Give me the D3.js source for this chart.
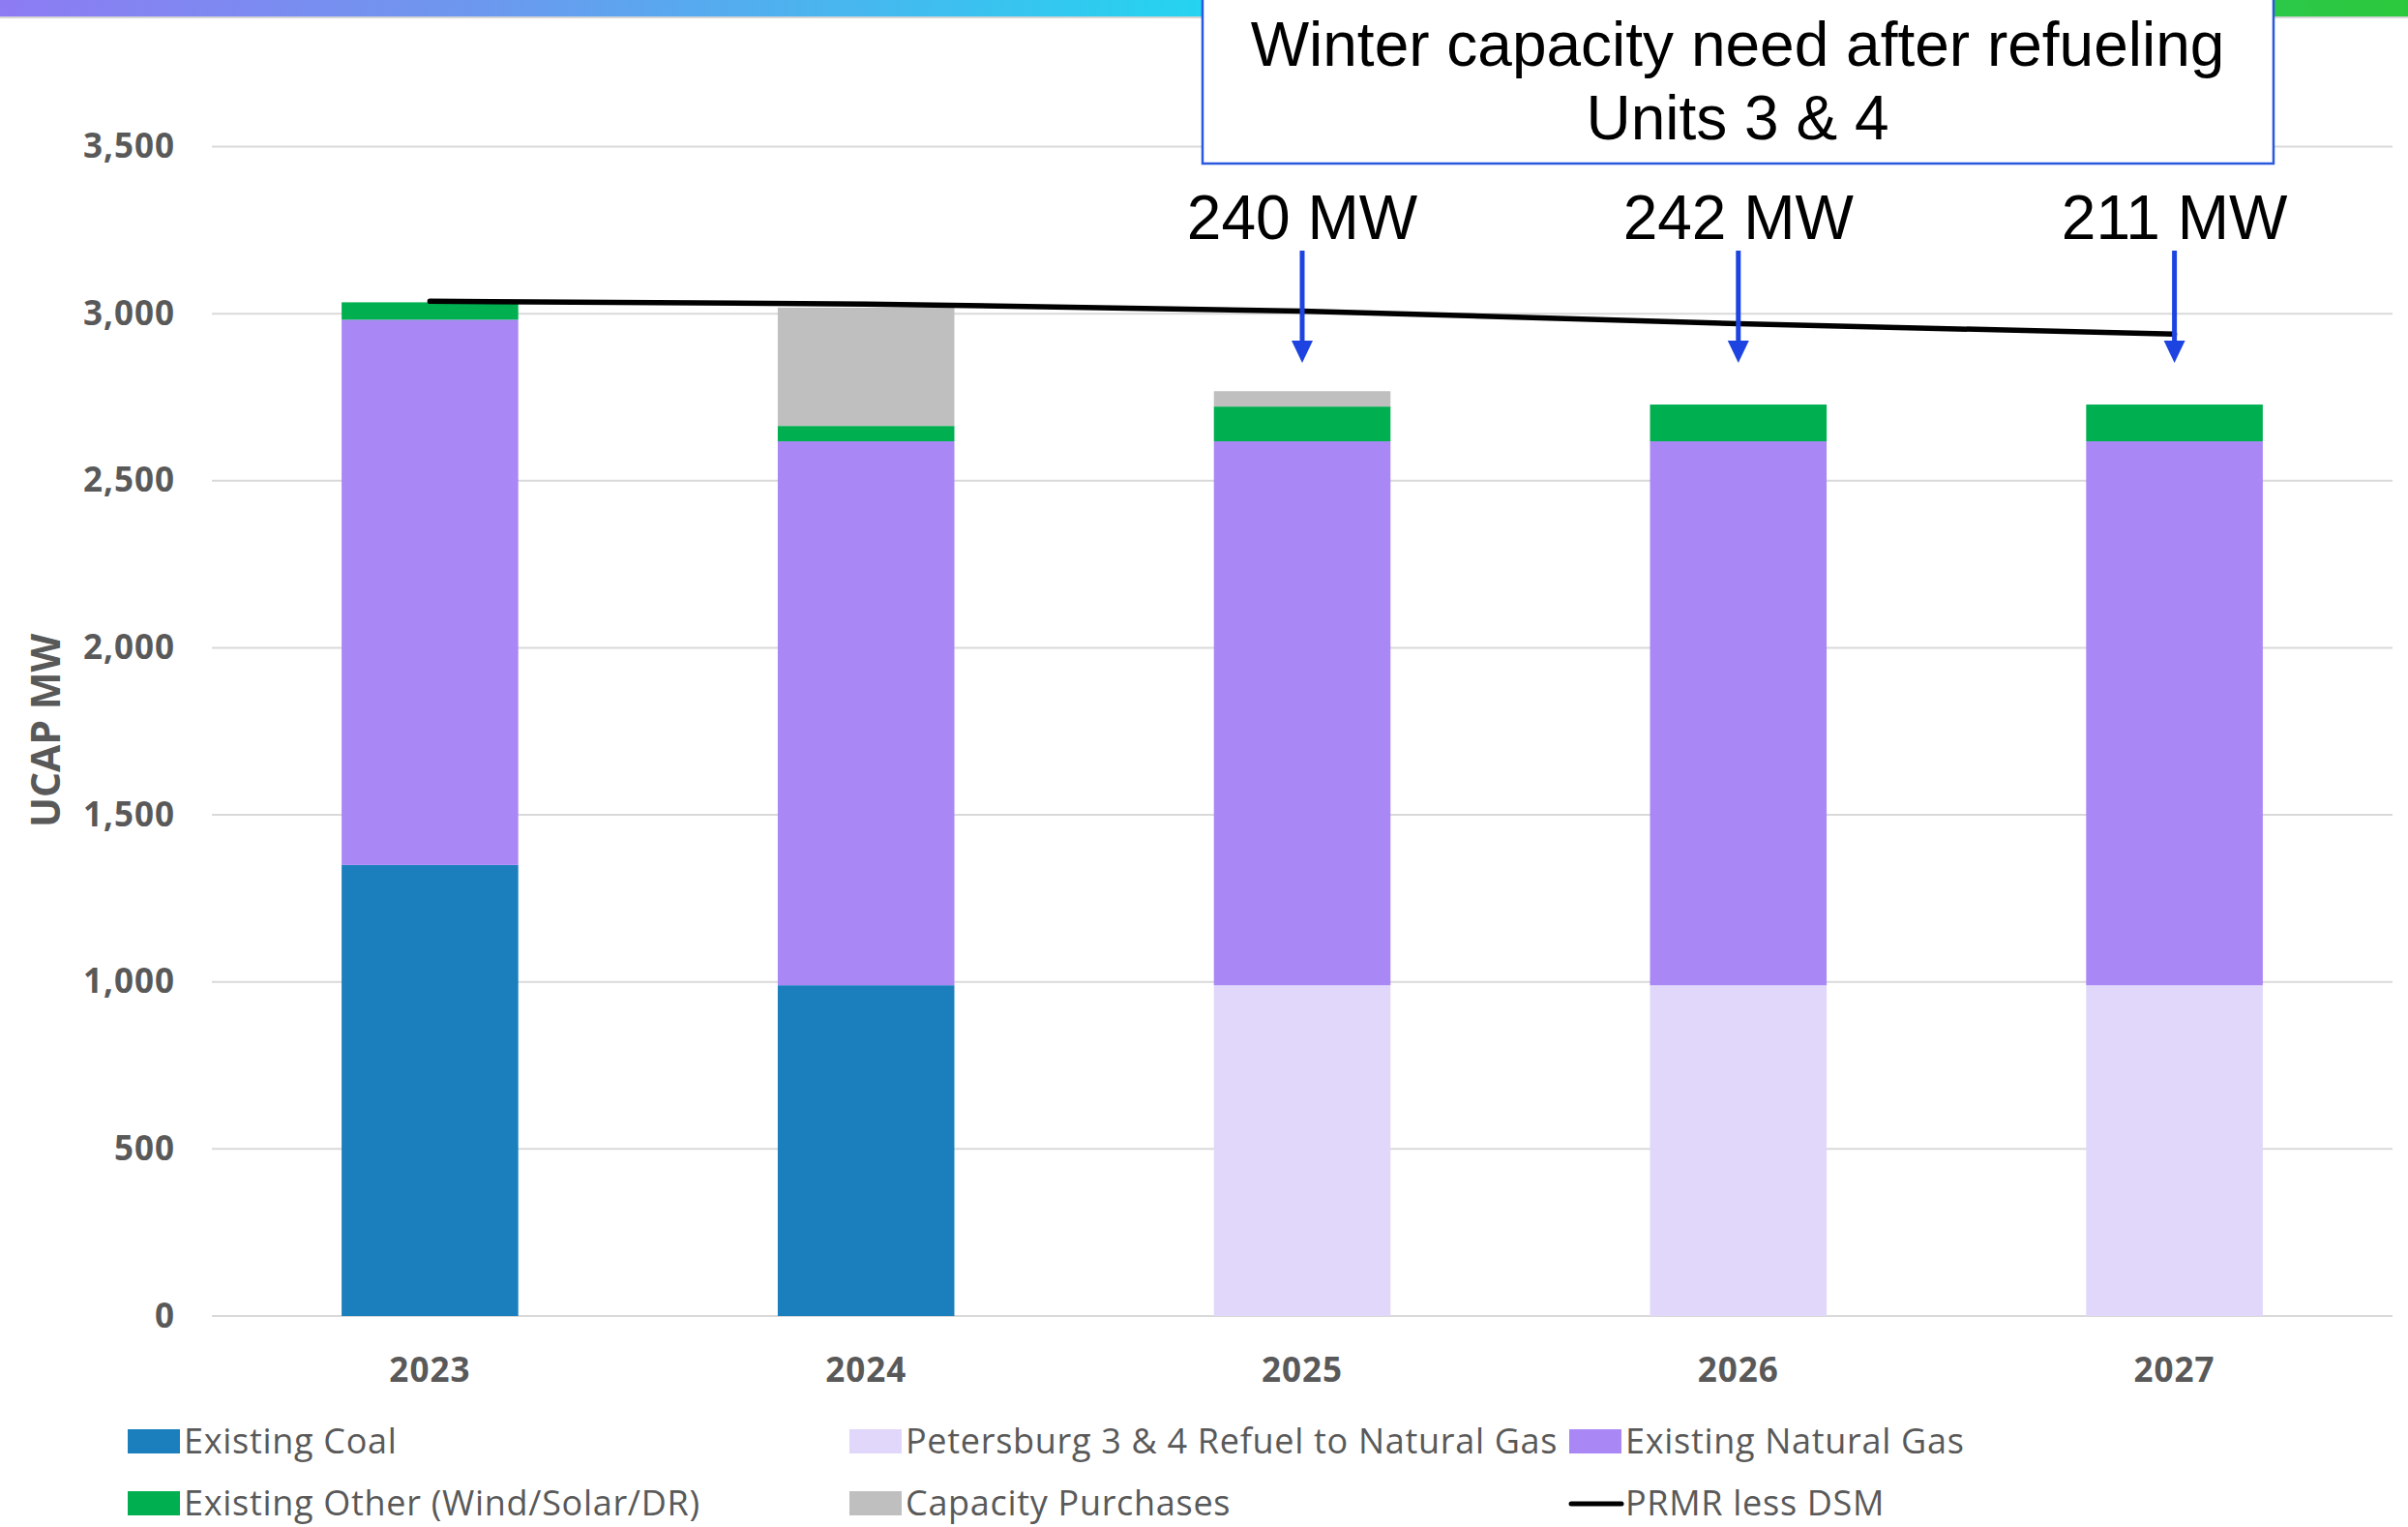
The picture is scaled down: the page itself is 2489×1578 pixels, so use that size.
<!DOCTYPE html>
<html>
<head>
<meta charset="utf-8">
<script src="https://cdn.jsdelivr.net/npm/d3@7"></script>
<style>
  html, body { margin: 0; padding: 0; background: #ffffff; }
  svg { display: block; }
</style>
</head>
<body>
<svg id="chart" width="2489" height="1578"></svg>
<script>
// Capacity stack by planning year (UCAP MW)
const years = ["2023", "2024", "2025", "2026", "2027"];
const existingCoal = [1350, 990, 0, 0, 0];
const petersburgRefuel = [0, 0, 990, 990, 990];
const existingNaturalGas = [1632, 1628, 1628, 1628, 1628];
const existingOther = [52, 46, 104, 110, 110];
const capacityPurchases = [0, 354, 46, 0, 0];
const prmrLessDsm = [3037, 3029, 3008, 2970, 2939];
const needYears = ["2025", "2026", "2027"];
const yTicks = [0, 500, 1000, 1500, 2000, 2500, 3000, 3500];

const seriesNames = [
  "Existing Coal",
  "Petersburg 3 & 4 Refuel to Natural Gas",
  "Existing Natural Gas",
  "Existing Other (Wind/Solar/DR)",
  "Capacity Purchases"
];
const seriesValues = [existingCoal, petersburgRefuel, existingNaturalGas, existingOther, capacityPurchases];
const seriesColors = ["#1b7ebd", "#e1d7fa", "#a987f5", "#00af50", "#bfbfbf"];

const rows = years.map((yr, i) => {
  const r = { year: yr };
  seriesNames.forEach((n, k) => { r[n] = seriesValues[k][i]; });
  return r;
});

const svg = d3.select("#chart");
const W = 2489, H = 1578;
const plot = { left: 219, right: 2473, top: 151.5, bottom: 1360 };

// top decorative strip
const defs = svg.append("defs");
const grad = defs.append("linearGradient").attr("id", "strip").attr("x1", 0).attr("x2", 1).attr("y1", 0).attr("y2", 0);
grad.append("stop").attr("offset", "0%").attr("stop-color", "#8d7bf3");
grad.append("stop").attr("offset", "20%").attr("stop-color", "#6c98ee");
grad.append("stop").attr("offset", "50%").attr("stop-color", "#24d4ef");
grad.append("stop").attr("offset", "94%").attr("stop-color", "#2cc84a");
grad.append("stop").attr("offset", "100%").attr("stop-color", "#2cc83c");
svg.append("rect").attr("x", 0).attr("y", 0).attr("width", W).attr("height", 17).attr("fill", "url(#strip)");
svg.append("rect").attr("x", 0).attr("y", 17).attr("width", W).attr("height", 2).attr("fill", "#d6d6d6");

const x = d3.scaleBand().domain(years).range([plot.left, plot.right]).paddingInner(0.595).paddingOuter(0.2975);
const y = d3.scaleLinear().domain([0, 3500]).range([plot.bottom, plot.top]);

// gridlines
svg.append("g").selectAll("line").data(yTicks).join("line")
  .attr("x1", plot.left).attr("x2", plot.right)
  .attr("y1", d => y(d)).attr("y2", d => y(d))
  .attr("stroke", "#d9d9d9").attr("stroke-width", 2);

// y axis labels
const yAxis = svg.append("g").attr("transform", `translate(${plot.left},0)`)
  .call(d3.axisLeft(y).tickValues(yTicks).tickFormat(d3.format(",")).tickSize(0).tickPadding(38));
yAxis.select(".domain").remove();
yAxis.selectAll("text")
  .attr("font-family", "'Open Sans', sans-serif").attr("font-weight", 700)
  .attr("font-size", 35).attr("fill", "#595959").attr("letter-spacing", 1);

// x axis labels
const xAxis = svg.append("g").attr("transform", `translate(0,${plot.bottom})`)
  .call(d3.axisBottom(x).tickSize(0).tickPadding(43));
xAxis.select(".domain").remove();
xAxis.selectAll("text")
  .attr("font-family", "'Open Sans', sans-serif").attr("font-weight", 700)
  .attr("font-size", 35).attr("fill", "#595959").attr("letter-spacing", 1);

// y axis title
svg.append("text")
  .attr("transform", "translate(62,755) rotate(-90)")
  .attr("text-anchor", "middle")
  .attr("font-family", "'Open Sans', sans-serif").attr("font-weight", 700)
  .attr("font-size", 41).attr("fill", "#595959")
  .text("UCAP MW");

// stacked bars
const stack = d3.stack().keys(seriesNames)(rows);
svg.append("g").selectAll("g").data(stack).join("g")
  .attr("fill", (d, i) => seriesColors[i])
  .selectAll("rect").data(d => d).join("rect")
  .attr("x", d => x(d.data.year))
  .attr("width", x.bandwidth())
  .attr("y", d => y(d[1]))
  .attr("height", d => Math.max(0, y(d[0]) - y(d[1])));

// PRMR less DSM line
const cx = yr => x(yr) + x.bandwidth() / 2;
svg.append("path")
  .datum(years.map((yr, i) => [cx(yr), y(prmrLessDsm[i])]))
  .attr("d", d3.line())
  .attr("fill", "none").attr("stroke", "#000").attr("stroke-width", 5.5)
  .attr("stroke-linecap", "round");

// capacity need annotations
const totals = years.map((yr, i) => seriesValues.reduce((s, arr) => s + arr[i], 0));
const arrowColor = "#1d44e0";
const ann = svg.append("g");
needYears.forEach(yr => {
  const i = years.indexOf(yr);
  const need = prmrLessDsm[i] - totals[i];
  const ax = cx(yr);
  ann.append("text")
    .attr("x", ax).attr("y", 247)
    .attr("text-anchor", "middle")
    .attr("font-family", "'Liberation Sans', Arial, sans-serif")
    .attr("font-size", 64).attr("fill", "#000")
    .text(`${need} MW`);
  ann.append("line")
    .attr("x1", ax).attr("x2", ax).attr("y1", 259).attr("y2", 356)
    .attr("stroke", arrowColor).attr("stroke-width", 5);
  ann.append("path")
    .attr("d", `M${ax - 11},352 L${ax + 11},352 L${ax},375 Z`)
    .attr("fill", arrowColor);
});

// title box
svg.append("rect")
  .attr("x", 1243).attr("y", -6).attr("width", 1107).attr("height", 175)
  .attr("fill", "#fff").attr("stroke", "#2a58de").attr("stroke-width", 2.5);
const title = svg.append("text")
  .attr("text-anchor", "middle")
  .attr("font-family", "'Liberation Sans', Arial, sans-serif")
  .attr("font-size", 64).attr("fill", "#000");
title.append("tspan").attr("x", 1796).attr("y", 68).text("Winter capacity need after refueling");
title.append("tspan").attr("x", 1796).attr("y", 144).text("Units 3 & 4");

// legend
const legendItems = [
  { name: seriesNames[0], color: seriesColors[0], type: "rect", x: 132, y: 1502 },
  { name: seriesNames[1], color: seriesColors[1], type: "rect", x: 878, y: 1502 },
  { name: seriesNames[2], color: seriesColors[2], type: "rect", x: 1622, y: 1502 },
  { name: seriesNames[3], color: seriesColors[3], type: "rect", x: 132, y: 1566 },
  { name: seriesNames[4], color: seriesColors[4], type: "rect", x: 878, y: 1566 },
  { name: "PRMR less DSM", color: "#000", type: "line", x: 1622, y: 1566 }
];
const lg = svg.append("g").selectAll("g").data(legendItems).join("g")
  .attr("transform", d => `translate(${d.x},${d.y})`);
lg.filter(d => d.type === "rect").append("rect")
  .attr("x", 0).attr("y", -25).attr("width", 54).attr("height", 25)
  .attr("fill", d => d.color);
lg.filter(d => d.type === "line").append("line")
  .attr("x1", 2).attr("x2", 54).attr("y1", -12).attr("y2", -12)
  .attr("stroke", "#000").attr("stroke-width", 5).attr("stroke-linecap", "round");
lg.append("text")
  .attr("x", 58).attr("y", 0)
  .attr("font-family", "'Open Sans', sans-serif")
  .attr("font-size", 36).attr("fill", "#595959").attr("letter-spacing", 0.7)
  .text(d => d.name);
</script>
</body>
</html>
